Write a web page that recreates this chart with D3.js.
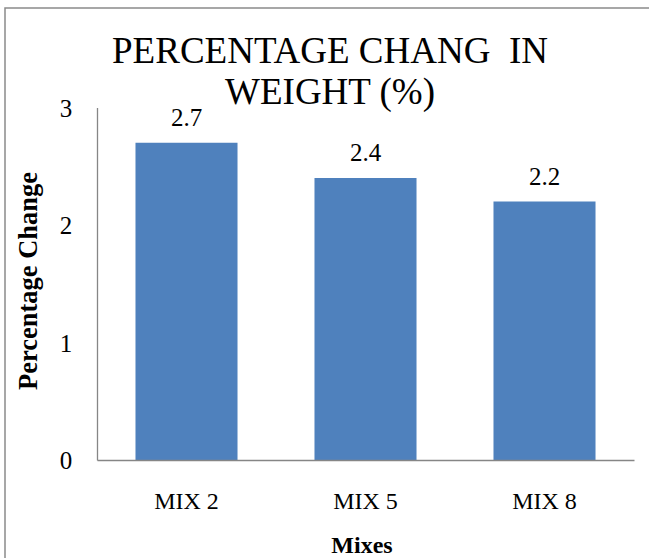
<!DOCTYPE html>
<html>
<head>
<meta charset="utf-8">
<script src="https://cdn.jsdelivr.net/npm/d3@7"></script>
<style>
  html, body { margin: 0; padding: 0; background: #fff; }
  svg text { font-family: "Liberation Serif", "Times New Roman", serif; fill: #000; }
</style>
</head>
<body>
<script>
// Chart data
const categories = ["MIX 2", "MIX 5", "MIX 8"];
const values = [2.7, 2.4, 2.2];
const yTicks = [0, 1, 2, 3];
const titleLines = ["PERCENTAGE CHANG  IN", "WEIGHT (%)"];
const xTitle = "Mixes";
const yTitle = "Percentage Change";

const W = 649, H = 558;
const SERIF = '"Liberation Serif", "Times New Roman", serif';
const svg = d3.select("body").append("svg").attr("width", W).attr("height", H);

// outer frame
svg.append("rect")
  .attr("x", 5).attr("y", 8).attr("width", W + 10).attr("height", H + 10)
  .attr("fill", "none").attr("stroke", "#8a8a8a").attr("stroke-width", 1.5);

const plot = { left: 97, right: 634, top: 107.5, bottom: 460 };

const x = d3.scaleBand().domain(categories)
  .range([plot.left, plot.right]).paddingInner(0.43).paddingOuter(0.215);
const y = d3.scaleLinear().domain([0, 3]).range([plot.bottom, plot.top]);

// bars
svg.append("g").selectAll("rect").data(values).join("rect")
  .attr("x", (d, i) => x(categories[i]))
  .attr("width", x.bandwidth())
  .attr("y", d => y(d))
  .attr("height", d => y(0) - y(d))
  .attr("fill", "#4F81BD");

// value labels
svg.append("g").selectAll("text").data(values).join("text")
  .attr("x", (d, i) => x(categories[i]) + x.bandwidth() / 2)
  .attr("y", d => y(d) - 17)
  .attr("text-anchor", "middle")
  .style("font-family", SERIF).style("font-size", "25px")
  .text(d => d.toFixed(1));

// y axis
const yAxis = svg.append("g").attr("transform", `translate(${plot.left},0)`)
  .call(d3.axisLeft(y).tickValues(yTicks).tickSize(0).tickPadding(0).tickFormat(d3.format("d")));
yAxis.select(".domain").attr("stroke", "#868686").attr("stroke-width", 1.3);
yAxis.selectAll("text")
  .attr("x", -31).attr("text-anchor", "middle").attr("dy", "0.35em")
  .style("font-family", SERIF).style("font-size", "25px");

// x axis
const xAxis = svg.append("g").attr("transform", `translate(0,${plot.bottom})`)
  .call(d3.axisBottom(x).tickSize(0).tickPadding(0));
xAxis.select(".domain").attr("stroke", "#868686").attr("stroke-width", 1.3);
xAxis.selectAll("text")
  .attr("y", 49).attr("dy", 0)
  .style("font-family", SERIF).style("font-size", "24px");

// title
svg.append("g").selectAll("text").data(titleLines).join("text")
  .attr("x", 330)
  .attr("y", (d, i) => 63 + i * 41)
  .attr("text-anchor", "middle")
  .style("font-family", SERIF).style("font-size", "37px")
  .style("white-space", "pre")
  .text(d => d);

// axis titles
svg.append("text")
  .attr("x", 362).attr("y", 553)
  .attr("text-anchor", "middle")
  .style("font-family", SERIF).style("font-size", "24px").style("font-weight", "bold")
  .text(xTitle);

svg.append("text")
  .attr("transform", `translate(37,281) rotate(-90)`)
  .attr("text-anchor", "middle")
  .style("font-family", SERIF).style("font-size", "26.5px").style("font-weight", "bold")
  .text(yTitle);
</script>
</body>
</html>
